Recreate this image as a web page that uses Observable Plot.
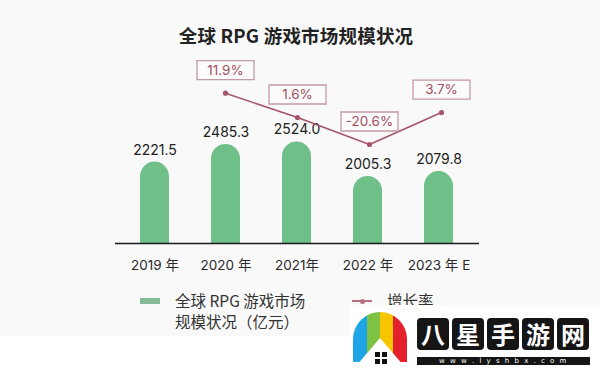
<!DOCTYPE html>
<html>
<head>
<meta charset="utf-8">
<script src="https://cdn.jsdelivr.net/npm/d3@7"></script>
<script src="https://cdn.jsdelivr.net/npm/@observablehq/plot@0.6"></script>
<style>
  html, body { margin: 0; padding: 0; background: #ffffff; }
  #root { position: relative; width: 600px; height: 371px; overflow: hidden; background: #f9f9f9;
          font-family: Inter, "Noto Sans CJK SC", sans-serif; color: #2a2a2a; }
  #root > svg { position: absolute; left: 0; top: 0; }
  .abs { position: absolute; }
  #title { left: 0; width: 592px; top: 24px; text-align: center; font: 700 18.5px/22px "Noto Sans CJK SC", sans-serif; color: #222; letter-spacing: 0.2px; }
  .leg { font: 400 15.5px/21px "Noto Sans CJK SC", sans-serif; color: #333; }
  #bottomWhite { left: 0; top: 336px; width: 600px; height: 35px; background: #fff; }
  #wm { left: 350px; top: 305px; width: 250px; height: 66px; background: #fff; }
  .wmch { position: absolute; top: 13px; width: 32px; height: 32px; background: #151515; border-radius: 4px; color: #fff;
          font: 700 24px/32px "Noto Sans CJK SC", sans-serif; text-align: center; }
</style>
</head>
<body>
<div id="root">
  <div id="bottomWhite" class="abs"></div>
</div>
<script>
// ---- data ----
const years = ["2019 年", "2020 年", "2021年", "2022 年", "2023 年 E"];
const marketSize = [2221.5, 2485.3, 2524.0, 2005.3, 2079.8];
const growthYears = ["2020 年", "2021年", "2022 年", "2023 年 E"];
const growthRates = [11.9, 1.6, -20.6, 3.7];
const titleText = "全球 RPG 游戏市场规模状况";
const legendBar = ["全球 RPG 游戏市场", "规模状况（亿元）"];
const legendLine = "增长率";
const watermarkChars = ["八", "星", "手", "游", "网"];
const watermarkUrl = "w w w . l y s h b x . c o m";

const barData = years.map((year, i) => ({year, value: marketSize[i]}));
const rateData = growthYears.map((year, i) => ({year, rate: growthRates[i]}));

const GREEN = "#6fbf88";
const RED = "#a5566a";
const root = document.getElementById("root");

const xOpts = {domain: years, paddingInner: 0.59, paddingOuter: 0.33};
const common = {width: 600, height: 290, marginLeft: 115, marginRight: 121,
  style: {background: "transparent", fontFamily: "Inter, 'Noto Sans CJK SC', sans-serif", color: "#2a2a2a", overflow: "visible"}};

// ---- bars ----
const bars = Plot.plot({
  ...common,
  marginTop: 43, marginBottom: 47,
  x: {...xOpts, label: null, tickSize: 0, tickPadding: 17, fontSize: 13.5},
  y: {domain: [1000, 4000], axis: null},
  marks: [
    Plot.barY(barData, {x: "year", y1: 0, y2: "value", fill: GREEN, rx: 15, clip: true}),
    Plot.ruleY([1000], {stroke: "#1a1a1a", strokeWidth: 1.6}),
    Plot.text(barData, {x: "year", y: "value", text: d => d.value.toFixed(1), dy: -12, fontSize: 14, fill: "#222"})
  ]
});
bars.style.fontSize = "13.5px";
root.appendChild(bars);

// ---- growth line: own scale, negative side compressed as in the reference ----
const boxSymbol = {draw(ctx) { ctx.rect(-28.5, -9.5, 57, 19); }};
const line = Plot.plot({
  ...common,
  marginTop: 0, marginBottom: 0,
  x: {...xOpts, axis: null},
  y: {domain: [-15, 15], range: [156.2, 85.4], transform: v => (v < 0 ? v * 0.477 : v), axis: null},
  marks: [
    Plot.line(rateData, {x: "year", y: "rate", stroke: RED, strokeWidth: 1.6}),
    Plot.dot(rateData, {x: "year", y: "rate", r: 2.6, fill: RED}),
    Plot.dot(rateData, {x: "year", y: "rate", dy: -23, symbol: boxSymbol, fill: "#fbfbfb", stroke: "#c29aa2", strokeWidth: 1.3}),
    Plot.text(rateData, {x: "year", y: "rate", dy: -23, text: d => d.rate.toFixed(1) + "%", fontSize: 13.5, fill: "#a04f60"})
  ]
});
root.appendChild(line);

// ---- title ----
const t = document.createElement("div");
t.id = "title"; t.className = "abs"; t.textContent = titleText;
root.appendChild(t);

// ---- legend ----
const sw = document.createElement("div");
sw.className = "abs";
Object.assign(sw.style, {left: "140px", top: "298px", width: "20px", height: "6px", background: "#84bb98"});
root.appendChild(sw);
const lt = document.createElement("div");
lt.className = "abs leg";
Object.assign(lt.style, {left: "175px", top: "290px"});
lt.innerHTML = legendBar.join("<br>");
root.appendChild(lt);
const ll = document.createElement("div");
ll.className = "abs";
Object.assign(ll.style, {left: "352px", top: "300px", width: "20px", height: "1.5px", background: "#b86e7c"});
root.appendChild(ll);
const ld = document.createElement("div");
ld.className = "abs";
Object.assign(ld.style, {left: "359.5px", top: "298.5px", width: "5px", height: "5px", borderRadius: "50%", background: "#b86e7c"});
root.appendChild(ld);
const l2 = document.createElement("div");
l2.className = "abs leg";
Object.assign(l2.style, {left: "387px", top: "290px"});
l2.textContent = legendLine;
root.appendChild(l2);

// ---- watermark (overlay in the reference image) ----
const wm = document.createElement("div");
wm.id = "wm"; wm.className = "abs";
root.appendChild(wm);
const dome = document.createElement("div");
Object.assign(dome.style, {position: "absolute", left: "3px", top: "7px", width: "54px", height: "50px",
  borderRadius: "27px 27px 0 0", background: "linear-gradient(90deg,#1ea5e6 0 25%,#7dc242 25% 50%,#f6c500 50% 75%,#e3202b 75% 100%)",
  clipPath: "polygon(0 0,100% 0,100% 100%,88% 100%,50% 52%,12% 100%,0 100%)"});
wm.appendChild(dome);
const win = document.createElement("div");
Object.assign(win.style, {position: "absolute", left: "25px", top: "47px", width: "12px", height: "12px", background: "#111"});
win.innerHTML = '<div style="position:absolute;left:0;top:5.4px;width:12px;height:1.2px;background:#fff"></div><div style="position:absolute;left:5.4px;top:0;width:1.2px;height:12px;background:#fff"></div>';
wm.appendChild(win);
watermarkChars.forEach((c, i) => {
  const b = document.createElement("div");
  b.className = "wmch"; b.textContent = c;
  b.style.left = (67 + i * 35) + "px";
  wm.appendChild(b);
});
const url = document.createElement("div");
Object.assign(url.style, {position: "absolute", left: "67px", top: "52px", width: "173px", height: "8px", background: "#151515",
  color: "#fff", font: "400 7px/8px 'DejaVu Sans', sans-serif", textAlign: "center", letterSpacing: "1.5px", whiteSpace: "nowrap"});
url.textContent = watermarkUrl;
wm.appendChild(url);
</script>
</body>
</html>
